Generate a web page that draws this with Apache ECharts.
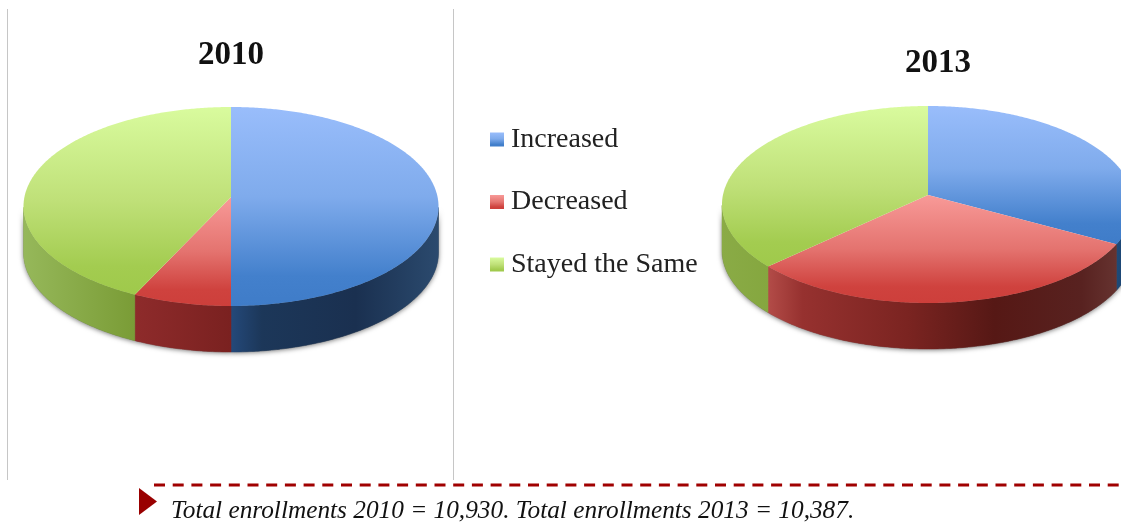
<!DOCTYPE html>
<html>
<head>
<meta charset="utf-8">
<style>
  html, body { margin: 0; padding: 0; background: #fff; }
  #chart { width: 1121px; height: 523px; overflow: hidden; }
</style>
<script src="https://cdn.jsdelivr.net/npm/echarts@6/dist/echarts.min.js"></script>
</head>
<body>
<div id="chart"></div>
<script>
const years = ["2010", "2013"];
const categories = ["Increased", "Decreased", "Stayed the Same"];
const increased = [50, 33];
const decreased = [7, 30];
const stayedSame = [43, 37];
const footnote = "Total enrollments 2010 = 10,930. Total enrollments 2013 = 10,387.";

const seriesValues = [increased, decreased, stayedSame];

// where each tilted pie sits; tilt moves the apex up from the ellipse centre
const pies = [
  { cx: 231, cy: 206.5, rx: 207.5, ry: 99.5, tilt: 0.095, depth: 46 },
  { cx: 928, cy: 204.5, rx: 206, ry: 98.5, tilt: 0.096, depth: 46 }
];

const grad = (x2, y2, colors) =>
  new echarts.graphic.LinearGradient(0, 0, x2, y2,
    colors.map(([offset, color]) => ({ offset, color })));

// top faces, one per category
const topColors = [
  [[0, "#99bdfb"], [0.45, "#7fabec"], [0.85, "#4380cc"], [1, "#3f7cc8"]],
  [[0, "#f89a98"], [0.5, "#e4736f"], [0.85, "#cf423e"], [1, "#cd3f3b"]],
  [[0, "#d9fb9e"], [0.5, "#bfe078"], [0.85, "#a3cc50"], [1, "#9fc94b"]]
];

// side walls, [category][year]
const wallColors = [
  [
    [[0, "#24497a"], [0.15, "#1c3759"], [0.6, "#1a3050"], [1, "#2b4a6e"]],
    [[0, "#1e4a78"], [1, "#1a4270"]]
  ],
  [
    [[0, "#8e2b2b"], [1, "#7a2120"]],
    [[0, "#b34c48"], [0.1, "#96312f"], [0.4, "#7b2421"], [0.65, "#561815"], [0.9, "#582220"], [1, "#663330"]]
  ],
  [
    [[0, "#96b85a"], [1, "#7a9c36"]],
    [[0, "#8aab46"], [1, "#85a73f"]]
  ]
];

// data angle (clockwise from 12 o'clock) to rim point, with a little perspective
function rimPoint(pie, angle) {
  const x = Math.sin(angle);
  const y = -Math.cos(angle);
  const k = pie.tilt;
  const w = 1 - k * y;
  return [
    pie.cx + pie.rx * (x * Math.sqrt(1 - k * k)) / w,
    pie.cy + pie.ry * (y - k) / w
  ];
}

function renderSlice(params, api) {
  const cat = params.seriesIndex;
  const yearIdx = api.value(0);
  const pie = pies[yearIdx];

  let before = 0;
  let total = 0;
  seriesValues.forEach((vals, i) => {
    if (i < cat) before += vals[yearIdx];
    total += vals[yearIdx];
  });

  const start = before / total * Math.PI * 2;
  const end = (before + api.value(1)) / total * Math.PI * 2;
  const steps = Math.max(4, Math.ceil((end - start) / 0.01));

  const rim = [];
  for (let i = 0; i <= steps; i++) {
    rim.push(rimPoint(pie, start + (end - start) * i / steps));
  }

  const apex = [pie.cx, pie.cy - pie.ry * pie.tilt];
  const children = [];

  // only the front half of the rim shows a wall
  const front = rim.filter(p => p[1] >= pie.cy);
  if (front.length > 1) {
    const wall = front.concat(front.slice().reverse().map(p => [p[0], p[1] + pie.depth]));
    const wallFill = grad(1, 0, wallColors[cat][yearIdx]);
    children.push({
      type: "polygon",
      z2: 0,
      shape: { points: wall },
      style: { fill: "#666", shadowColor: "rgba(0,0,0,0.55)", shadowBlur: 5, shadowOffsetY: 1 }
    });
    children.push({
      type: "polygon",
      z2: 1,
      shape: { points: wall },
      style: { fill: wallFill, stroke: wallFill, lineWidth: 0.5 }
    });
  }

  children.push({
    type: "polygon",
    z2: 2,
    shape: { points: [apex].concat(rim) },
    style: { fill: grad(0, 1, topColors[cat]) }
  });

  return { type: "group", children };
}

const chart = echarts.init(document.getElementById("chart"), null, { renderer: "canvas" });

chart.setOption({
  animation: false,
  backgroundColor: "#fff",
  title: [
    {
      text: years[0], left: 226, top: 34, textAlign: "center",
      textStyle: { fontFamily: "Liberation Serif", fontWeight: "bold", fontSize: 33, color: "#111" }
    },
    {
      text: years[1], left: 933, top: 42, textAlign: "center",
      textStyle: { fontFamily: "Liberation Serif", fontWeight: "bold", fontSize: 33, color: "#111" }
    }
  ],
  legend: {
    data: categories,
    orient: "vertical",
    left: 490,
    top: 125.5,
    padding: 0,
    icon: "rect",
    itemWidth: 14,
    itemHeight: 14,
    itemGap: 34.5,
    selectedMode: false,
    textStyle: {
      fontFamily: "Liberation Serif",
      fontSize: 28,
      color: "#222",
      padding: [0, 0, 0, 2]
    }
  },
  series: categories.map((name, i) => ({
    type: "custom",
    name,
    coordinateSystem: "none",
    renderItem: renderSlice,
    itemStyle: { color: grad(0, 1, topColors[i]) },
    data: seriesValues[i].map((v, y) => [y, v])
  })),
  graphic: [
    { type: "line", shape: { x1: 7.5, y1: 9, x2: 7.5, y2: 480 }, style: { stroke: "#c6c6c6", lineWidth: 1 } },
    { type: "line", shape: { x1: 453.5, y1: 9, x2: 453.5, y2: 480 }, style: { stroke: "#c6c6c6", lineWidth: 1 } },
    {
      type: "line",
      shape: { x1: 154, y1: 485, x2: 1121, y2: 485 },
      style: { stroke: "#a00000", lineWidth: 3, lineDash: [11, 7.7] }
    },
    {
      type: "polygon",
      shape: { points: [[139, 488], [157, 501.5], [139, 515]] },
      style: { fill: "#990000" }
    },
    {
      type: "text",
      x: 171,
      y: 511,
      style: {
        text: footnote,
        fontFamily: "Liberation Serif",
        fontStyle: "italic",
        fontSize: 25.3,
        fill: "#111",
        verticalAlign: "middle"
      }
    }
  ]
});
</script>
</body>
</html>
